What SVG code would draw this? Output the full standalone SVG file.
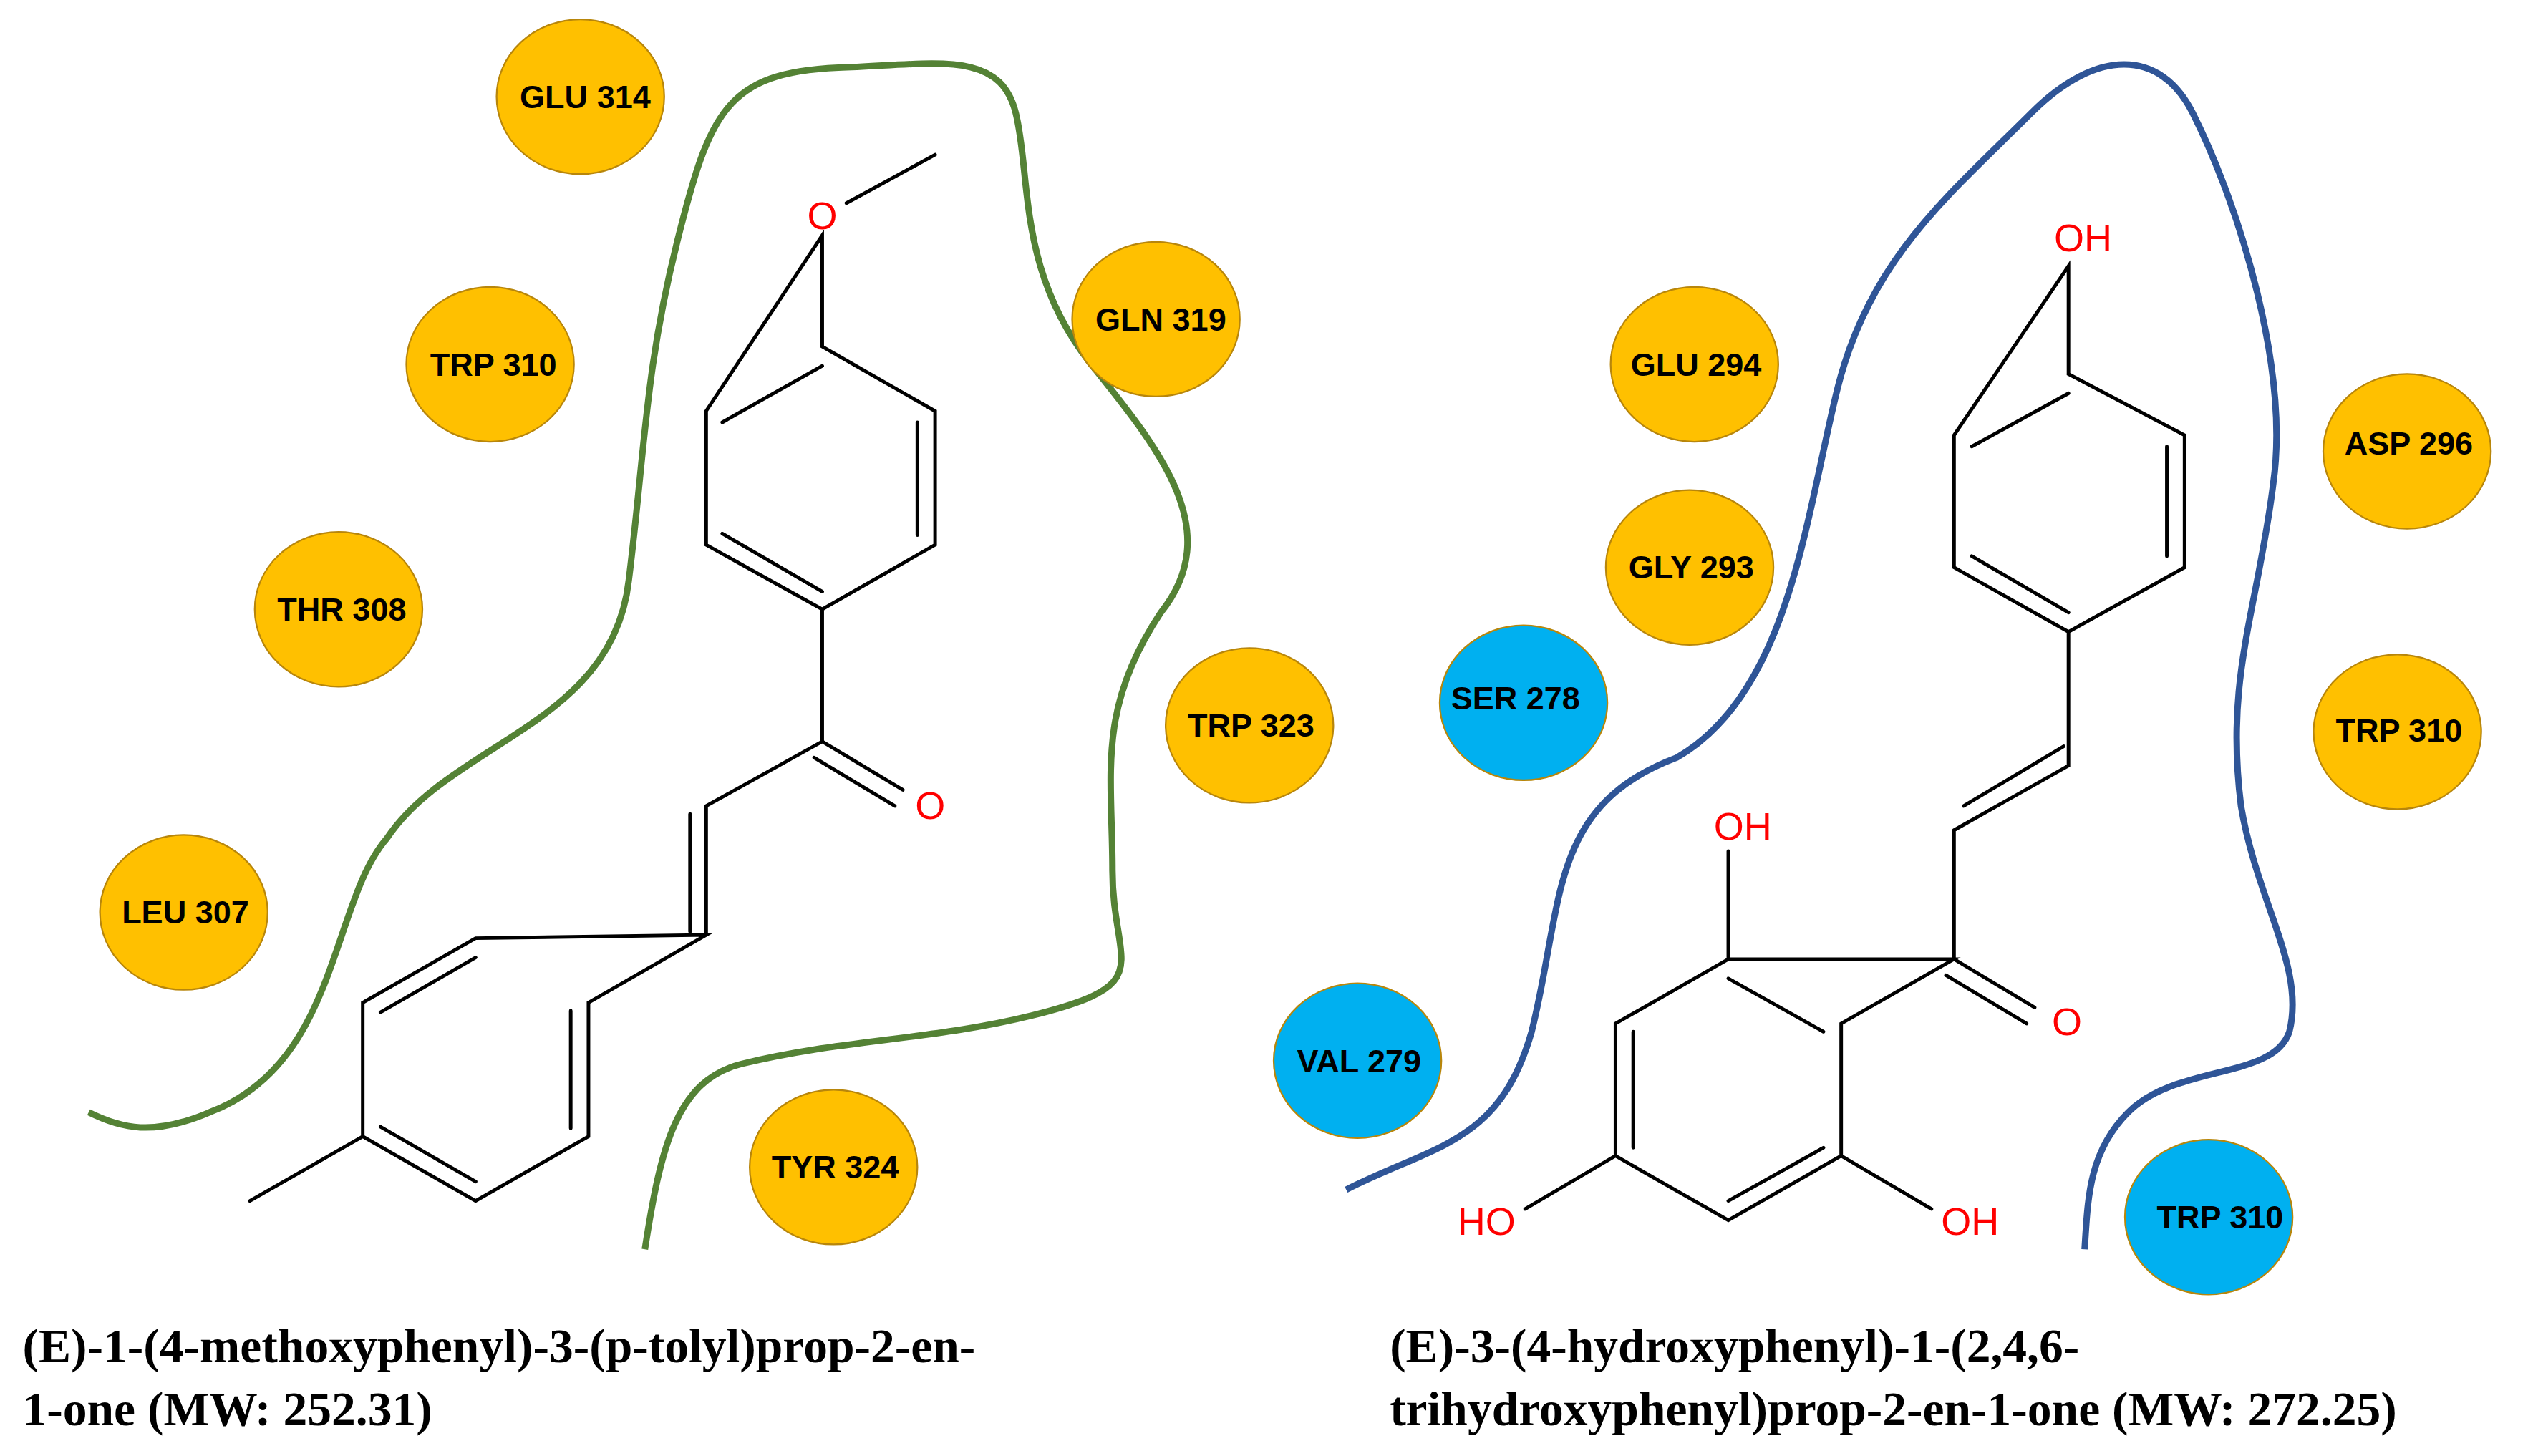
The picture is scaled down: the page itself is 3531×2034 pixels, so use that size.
<svg xmlns="http://www.w3.org/2000/svg" width="3531" height="2034" viewBox="0 0 3531 2034">
<style>
.res{stroke:#B8860B;stroke-width:1}
.or{fill:#FFC000}.bl{fill:#00B0F0}
.lbl{font-family:"Liberation Sans",Arial,sans-serif;font-weight:bold;font-size:20px;fill:#000;text-anchor:middle}
.at{font-family:"Liberation Sans",Arial,sans-serif;font-size:24px;fill:#FF0000;text-anchor:middle}
.bond{stroke:#000;stroke-width:2.2;fill:none;stroke-linecap:round}
.cap{font-family:"Liberation Serif","Times New Roman",serif;font-weight:bold;font-size:30px;fill:#000}
</style>
<rect width="3531" height="2034" fill="#fff"/>
<g transform="scale(2.2519)">
<g id="pockets">
<path d="M55,690 C75,700 95,705 130,690 C210,660 205,560 240,520 C280,460 380,450 390,360 C400,280 400,230 420,150 C440,70 450,45 520,42 C580,40 620,30 630,70 C640,110 630,170 680,230 C720,280 760,330 720,380 C680,440 690,480 690,540 C690,600 720,610 640,630 C580,645 520,645 460,660 C420,670 410,710 400,775" fill="none" stroke="#548235" stroke-width="4"/>
<path d="M835,738 C890,710 930,710 950,640 C970,560 960,500 1040,470 C1110,430 1120,320 1140,240 C1160,160 1210,120 1260,70 C1300,30 1340,30 1360,70 C1390,130 1420,230 1410,300 C1400,380 1380,420 1390,500 C1400,560 1430,600 1420,640 C1410,670 1350,660 1320,690 C1295,715 1295,745 1293,775" fill="none" stroke="#2F5597" stroke-width="4"/>
</g>
<g id="res-glu314"><ellipse class="res or" cx="360" cy="60" rx="52" ry="48"/><text class="lbl" x="363" y="67">GLU 314</text></g>
<g id="res-trp310a"><ellipse class="res or" cx="304" cy="226" rx="52" ry="48"/><text class="lbl" x="306" y="233">TRP 310</text></g>
<g id="res-thr308"><ellipse class="res or" cx="210" cy="378" rx="52" ry="48"/><text class="lbl" x="212" y="385">THR 308</text></g>
<g id="res-leu307"><ellipse class="res or" cx="114" cy="566" rx="52" ry="48"/><text class="lbl" x="115" y="573">LEU 307</text></g>
<g id="res-gln319"><ellipse class="res or" cx="717" cy="198" rx="52" ry="48"/><text class="lbl" x="720" y="205">GLN 319</text></g>
<g id="res-trp323"><ellipse class="res or" cx="775" cy="450" rx="52" ry="48"/><text class="lbl" x="776" y="457">TRP 323</text></g>
<g id="res-tyr324"><ellipse class="res or" cx="517" cy="724" rx="52" ry="48"/><text class="lbl" x="518" y="731">TYR 324</text></g>
<g id="res-glu294"><ellipse class="res or" cx="1051" cy="226" rx="52" ry="48"/><text class="lbl" x="1052" y="233">GLU 294</text></g>
<g id="res-gly293"><ellipse class="res or" cx="1048" cy="352" rx="52" ry="48"/><text class="lbl" x="1049" y="359">GLY 293</text></g>
<g id="res-ser278"><ellipse class="res bl" cx="945" cy="436" rx="52" ry="48"/><text class="lbl" x="940" y="440">SER 278</text></g>
<g id="res-val279"><ellipse class="res bl" cx="842" cy="658" rx="52" ry="48"/><text class="lbl" x="843" y="665">VAL 279</text></g>
<g id="res-asp296"><ellipse class="res or" cx="1493" cy="280" rx="52" ry="48"/><text class="lbl" x="1494" y="282">ASP 296</text></g>
<g id="res-trp310b"><ellipse class="res or" cx="1487" cy="454" rx="52" ry="48"/><text class="lbl" x="1488" y="460">TRP 310</text></g>
<g id="res-trp310c"><ellipse class="res bl" cx="1370" cy="755" rx="52" ry="48"/><text class="lbl" x="1377" y="762">TRP 310</text></g>
<g id="mol1">
<path class="bond" d="M580,96 L525,126 M510,146 L510,215 L580,255 L580,338 L510,378 L438,338 L438,255 Z M448,262 L510,227 M569,262 L569,332 M448,331 L510,367 M510,378 L510,460 L438,500 L438,580 M428,505 L428,578 M510,460 L560,490 M505,470 L555,500 M438,580 L365,622 L365,705 L295,745 L225,705 L225,622 L295,582 Z M354,627 L354,700 M295,594 L236,628 M236,699 L295,733 M225,705 L155,745"/>
<text class="at" x="510" y="142">O</text>
<text class="at" x="577" y="508">O</text>
</g>
<g id="mol2">
<path class="bond" d="M1283,165 L1283,232 L1355,270 L1355,352 L1283,392 L1212,352 L1212,270 Z M1344,277 L1344,345 M1283,244 L1223,277 M1223,345 L1283,380 M1283,392 L1283,475 L1212,515 M1280,463 L1218,500 M1212,515 L1212,595 L1262,625 M1207,605 L1257,635 M1212,595 L1142,635 L1142,717 L1072,757 L1002,717 L1002,635 L1072,595 Z M1131,640 L1072,607 M1013,640 L1013,712 M1131,712 L1072,745 M1072,595 L1072,528 M1142,717 L1198,750 M1002,717 L946,750"/>
<text class="at" x="1292" y="156">OH</text>
<text class="at" x="1081" y="521">OH</text>
<text class="at" x="1282" y="642">O</text>
<text class="at" x="1222" y="766">OH</text>
<text class="at" x="922" y="766">HO</text>
</g>
<g id="captions">
<text class="cap" x="14" y="845">(E)-1-(4-methoxyphenyl)-3-(p-tolyl)prop-2-en-</text>
<text class="cap" x="14" y="884">1-one (MW: 252.31)</text>
<text class="cap" x="862" y="845">(E)-3-(4-hydroxyphenyl)-1-(2,4,6-</text>
<text class="cap" x="862" y="884">trihydroxyphenyl)prop-2-en-1-one (MW: 272.25)</text>
</g>
</g>
</svg>
